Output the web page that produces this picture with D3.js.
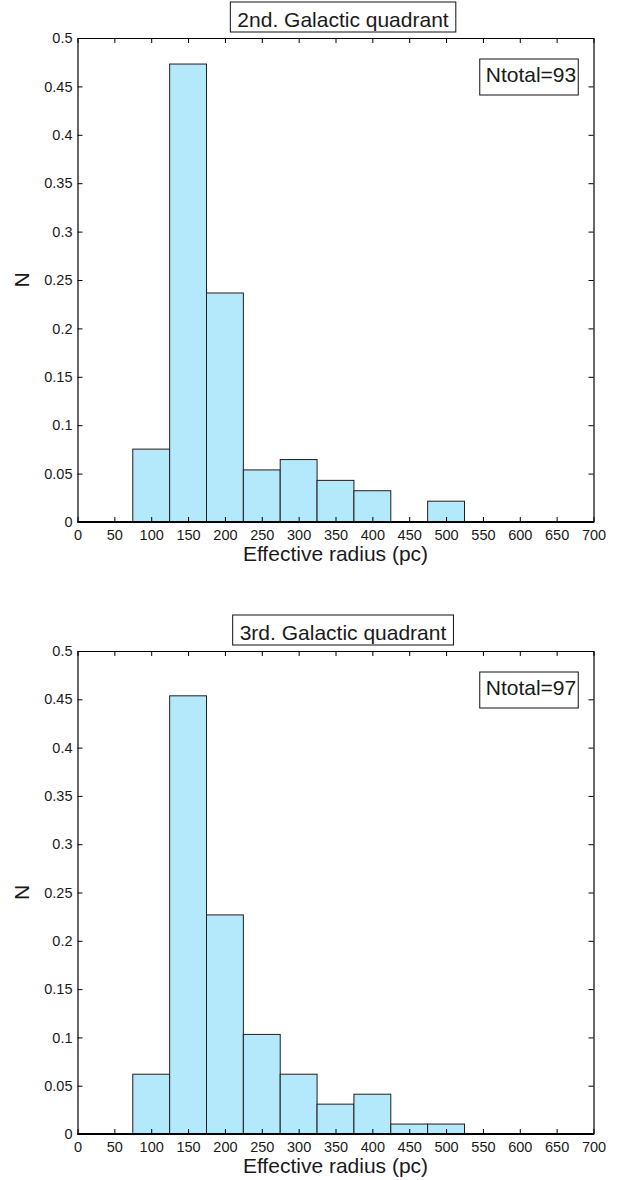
<!DOCTYPE html>
<html>
<head>
<meta charset="utf-8">
<script src="https://cdn.jsdelivr.net/npm/d3@7"></script>
<style>
  body { margin: 0; background: #fff; }
  text { font-family: "Liberation Sans", Helvetica, Arial, sans-serif; fill: #1a1a1a; }
</style>
</head>
<body>
<div id="chart"></div>
<script>
// bin centres (pc), bin width 50
var binCenters = [100, 150, 200, 250, 300, 350, 400, 450, 500];
// normalised counts
var quad2Values = [0.0753, 0.4731, 0.2366, 0.0538, 0.0645, 0.0430, 0.0323, 0, 0.0215];
var quad3Values = [0.0619, 0.4536, 0.2268, 0.1031, 0.0619, 0.0309, 0.0412, 0.0103, 0.0103];
var xTicks = [0, 50, 100, 150, 200, 250, 300, 350, 400, 450, 500, 550, 600, 650, 700];
var yTicks = [0, 0.05, 0.1, 0.15, 0.2, 0.25, 0.3, 0.35, 0.4, 0.45, 0.5];
var titles = ["2nd. Galactic quadrant", "3rd. Galactic quadrant"];
var totals = ["Ntotal=93", "Ntotal=97"];

var svgW = 629, svgH = 1180;
var svg = d3.select("#chart").append("svg")
  .attr("width", svgW)
  .attr("height", svgH);

var panels = [
  { values: quad2Values, title: titles[0], total: totals[0], top: 38, bottom: 522 },
  { values: quad3Values, title: titles[1], total: totals[1], top: 651, bottom: 1134 }
];

var left = 77.5, right = 593.5;

panels.forEach(function (p) {
  var x = d3.scaleLinear().domain([0, 700]).range([left, right]);
  var y = d3.scaleLinear().domain([0, 0.5]).range([p.bottom, p.top]);
  var g = svg.append("g");

  // bars
  g.selectAll("rect.bar")
    .data(binCenters.map(function (c, i) { return { c: c, v: p.values[i] }; }).filter(function (d) { return d.v > 0; }))
    .enter()
    .append("rect")
    .attr("class", "bar")
    .attr("x", function (d) { return x(d.c - 25); })
    .attr("y", function (d) { return y(d.v); })
    .attr("width", function (d) { return x(d.c + 25) - x(d.c - 25); })
    .attr("height", function (d) { return y(0) - y(d.v); })
    .attr("fill", "#b4e9fc")
    .attr("stroke", "#1e1e1e")
    .attr("stroke-width", 1);

  // baseline
  g.append("line")
    .attr("x1", left).attr("x2", right)
    .attr("y1", y(0)).attr("y2", y(0))
    .attr("stroke", "#000").attr("stroke-width", 2);

  // axes (ticks pointing inward, mirrored on top/right)
  var bottomAxis = d3.axisBottom(x).tickValues(xTicks).tickSizeInner(-5).tickSizeOuter(0).tickPadding(8)
    .tickFormat(d3.format("d"));
  var topAxis = d3.axisTop(x).tickValues(xTicks).tickSizeInner(-5).tickSizeOuter(0).tickFormat("");
  var leftAxis = d3.axisLeft(y).tickValues(yTicks).tickSizeInner(-5).tickSizeOuter(0).tickPadding(5)
    .tickFormat(function (d) { return String(+d.toFixed(2)); });
  var rightAxis = d3.axisRight(y).tickValues(yTicks).tickSizeInner(-5).tickSizeOuter(0).tickFormat("");

  var axes = [
    g.append("g").attr("transform", "translate(0," + p.bottom + ")").call(bottomAxis),
    g.append("g").attr("transform", "translate(0," + p.top + ")").call(topAxis),
    g.append("g").attr("transform", "translate(" + left + ",0)").call(leftAxis),
    g.append("g").attr("transform", "translate(" + right + ",0)").call(rightAxis)
  ];
  axes.forEach(function (a) {
    a.select(".domain").attr("stroke", "#000").attr("stroke-width", 1.2);
    a.selectAll(".tick line").attr("stroke", "#000");
    a.selectAll(".tick text").style("font-size", "14.5px").attr("fill", "#222");
  });

  // axis labels
  g.append("text")
    .attr("x", (left + right) / 2)
    .attr("y", p.bottom + 39)
    .attr("text-anchor", "middle")
    .style("font-size", "21px")
    .text("Effective radius (pc)");

  g.append("text")
    .attr("transform", "translate(29," + ((p.top + p.bottom) / 2) + ") rotate(-90)")
    .attr("text-anchor", "middle")
    .style("font-size", "21px")
    .text("N");

  // boxed title
  var tt = g.append("text")
    .attr("x", 343)
    .attr("y", p.top - 11)
    .attr("text-anchor", "middle")
    .style("font-size", "21px")
    .text(p.title);
  var tb = tt.node().getBBox();
  g.insert("rect", function () { return tt.node(); })
    .attr("x", tb.x - 7).attr("y", p.top - 36)
    .attr("width", tb.width + 14).attr("height", 30)
    .attr("fill", "#fff").attr("stroke", "#111").attr("stroke-width", 1);

  // Ntotal box
  var nt = g.append("text")
    .attr("x", 531)
    .attr("y", p.top + 44)
    .attr("text-anchor", "middle")
    .style("font-size", "21px")
    .text(p.total);
  var nb = nt.node().getBBox();
  g.insert("rect", function () { return nt.node(); })
    .attr("x", nb.x - 6).attr("y", p.top + 21)
    .attr("width", nb.width + 8).attr("height", 36)
    .attr("fill", "#fff").attr("stroke", "#111").attr("stroke-width", 1);
});
</script>
</body>
</html>
